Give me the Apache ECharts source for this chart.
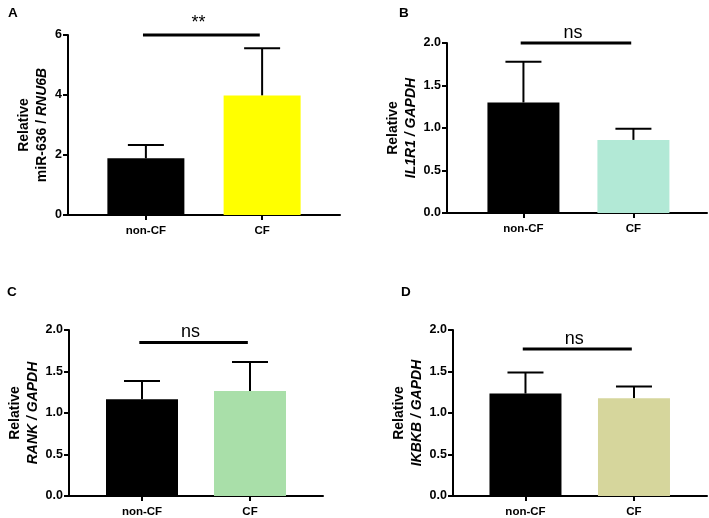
<!DOCTYPE html>
<html>
<head>
<meta charset="utf-8">
<style>html,body{margin:0;padding:0;background:#fff}#c{width:709px;height:518px}</style>
<script src="https://cdn.jsdelivr.net/npm/echarts@6/dist/echarts.min.js"></script>
</head>
<body>
<div id="c"></div>
<script>
// ---- data ----
const categories = ['non-CF', 'CF'];
const miR636Mean = [1.89, 3.98];
const miR636Err  = [0.44, 1.58];
const il1r1Mean  = [1.30, 0.86];
const il1r1Err   = [0.48, 0.13];
const rankMean   = [1.167, 1.265];
const rankErr    = [0.22, 0.35];
const ikbkbMean  = [1.234, 1.179];
const ikbkbErr   = [0.254, 0.139];
const sigY       = [6.0, 2.0, 1.85, 1.77];
const sigText    = ['**', 'ns', 'ns', 'ns'];
const yMax       = [6, 2, 2, 2];
const yInterval  = [2, 0.5, 0.5, 0.5];
const panelLetters = ['A', 'B', 'C', 'D'];

// ---- layout / style ----
const FONT = '"Liberation Sans", Arial, Helvetica, sans-serif';
const panels = [
  {mean: miR636Mean, err: miR636Err, color: '#ffff00', left: 68,  top: 35,  width: 272, height: 180, xmin: 0.33,  xmax: 2.67,  barW: 77, gap: 16, dec: 0,
   name: '{r|Relative}\n{n|miR-636 / }{i|RNU6B}', letter: [8, 6], textOff: 12},
  {mean: il1r1Mean, err: il1r1Err, color: '#b2e9d6', left: 447, top: 43,  width: 260, height: 170, xmin: 0.305, xmax: 2.669, barW: 72, gap: 19, dec: 1,
   name: '{r|Relative}\n{i|IL1R1 / GAPDH}', letter: [399, 6], textOff: 10},
  {mean: rankMean,  err: rankErr,  color: '#a9dfa9', left: 69,  top: 330, width: 254, height: 168, xmin: 0.324, xmax: 2.676, barW: 72, gap: 24, dec: 1,
   name: '{r|Relative}\n{i|RANK / GAPDH}', letter: [7, 285], textOff: 10},
  {mean: ikbkbMean, err: ikbkbErr, color: '#d6d69c', left: 453, top: 330, width: 254, height: 168, xmin: 0.332, xmax: 2.673, barW: 72, gap: 25, dec: 1,
   name: '{r|Relative}\n{i|IKBKB / GAPDH}', letter: [401, 285], textOff: 10}
];

const grid = [], xAxis = [], yAxis = [], series = [], title = [];
panels.forEach((p, i) => {
  grid.push({left: p.left, top: p.top, width: p.width, height: p.height, containLabel: false});
  title.push({text: panelLetters[i], left: p.letter[0], top: p.letter[1], padding: 0,
    textStyle: {fontFamily: FONT, fontSize: 13.5, fontWeight: 'bold', color: '#000'}});
  xAxis.push({
    type: 'value', gridIndex: i, min: p.xmin, max: p.xmax,
    splitLine: {show: false},
    axisLine: {show: true, onZero: false, lineStyle: {color: '#000', width: 2}},
    axisTick: {show: true, customValues: [1, 2], length: 5, lineStyle: {color: '#000', width: 2}},
    axisLabel: {show: true, customValues: [1, 2], margin: 10, formatter: v => categories[Math.round(v) - 1] || '',
      fontFamily: FONT, fontSize: 11.5, fontWeight: 'bold', color: '#000'}
  });
  yAxis.push({
    type: 'value', gridIndex: i, min: 0, max: yMax[i], interval: yInterval[i],
    splitLine: {show: false},
    axisLine: {show: true, lineStyle: {color: '#000', width: 2}},
    axisTick: {show: true, length: 5, lineStyle: {color: '#000', width: 2}},
    axisLabel: {margin: 6, formatter: v => v.toFixed(p.dec), fontFamily: FONT, fontSize: 12.5, fontWeight: 'bold', color: '#000'},
    name: p.name, nameLocation: 'middle', nameGap: p.gap,
    nameTextStyle: {
      fontFamily: FONT, color: '#000', lineHeight: 18,
      rich: {
        r: {fontFamily: FONT, fontSize: 14, fontWeight: 'bold', lineHeight: 18, color: '#000'},
        n: {fontFamily: FONT, fontSize: 14, fontWeight: 'bold', lineHeight: 18, color: '#000'},
        i: {fontFamily: FONT, fontSize: 14, fontWeight: 'bold', fontStyle: 'italic', lineHeight: 18, color: '#000'}
      }
    }
  });
  const cols = ['#000000', p.color];
  series.push({
    type: 'bar', xAxisIndex: i, yAxisIndex: i, barWidth: p.barW, z: 2,
    data: categories.map((c, k) => ({value: [k + 1, p.mean[k]], itemStyle: {color: cols[k]}}))
  });
  series.push({
    type: 'custom', xAxisIndex: i, yAxisIndex: i, z: 1, clip: false,
    data: categories.map((c, k) => [k + 1, p.mean[k], p.err[k]]),
    renderItem: (params, api) => {
      const x = api.value(0), m = api.value(1), e = api.value(2);
      const p0 = api.coord([x, m]), p1 = api.coord([x, m + e]);
      const st = {stroke: '#000', lineWidth: 2};
      return {type: 'group', children: [
        {type: 'line', shape: {x1: p0[0], y1: p0[1], x2: p1[0], y2: p1[1]}, style: st},
        {type: 'line', shape: {x1: p1[0] - 18, y1: p1[1], x2: p1[0] + 18, y2: p1[1]}, style: st}
      ]};
    }
  });
  series.push({
    type: 'custom', xAxisIndex: i, yAxisIndex: i, z: 3, clip: false,
    data: [[1, 2, sigY[i]]],
    renderItem: (params, api) => {
      const a = api.coord([api.value(0) - 0.025, api.value(2)]);
      const b = api.coord([api.value(1) - 0.02, api.value(2)]);
      return {type: 'group', children: [
        {type: 'line', shape: {x1: a[0], y1: a[1], x2: b[0], y2: b[1]}, style: {stroke: '#000', lineWidth: 3}},
        {type: 'text', x: (a[0] + b[0]) / 2 - 3, y: a[1] - p.textOff,
          style: {text: sigText[i], fill: '#000', font: '18px ' + FONT, textAlign: 'center', textVerticalAlign: 'middle'}}
      ]};
    }
  });
});

const chart = echarts.init(document.getElementById('c'), null, {renderer: 'canvas'});
chart.setOption({animation: false, backgroundColor: '#fff', title, grid, xAxis, yAxis, series});
</script>
</body>
</html>
